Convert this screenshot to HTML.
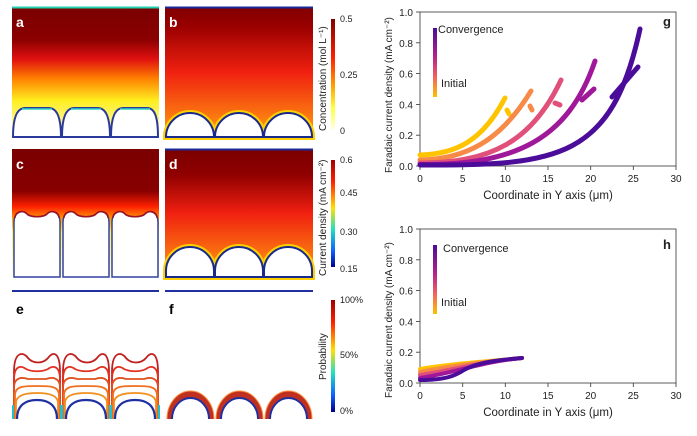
<!DOCTYPE html>
<html><head><meta charset="utf-8"><style>
body{margin:0;background:#fff}
svg text{font-family:"Liberation Sans",sans-serif}
</style></head><body>
<svg width="697" height="431" xmlns="http://www.w3.org/2000/svg">
<defs>
<linearGradient id="ga" x1="0" y1="0" x2="0" y2="1">
<stop offset="0" stop-color="#7a0000"/><stop offset="0.25" stop-color="#8a0000"/><stop offset="0.4" stop-color="#e01010"/><stop offset="0.55" stop-color="#ff8000"/><stop offset="0.72" stop-color="#ffee20"/><stop offset="1" stop-color="#fffbd0"/></linearGradient>
<linearGradient id="gb" x1="0" y1="0" x2="0" y2="1">
<stop offset="0" stop-color="#800000"/><stop offset="0.15" stop-color="#9a0000"/><stop offset="0.5" stop-color="#f02010"/><stop offset="1" stop-color="#ffa010"/></linearGradient>
<linearGradient id="gc" x1="0" y1="0" x2="0" y2="1">
<stop offset="0" stop-color="#7a0000"/><stop offset="0.33" stop-color="#880000"/><stop offset="0.45" stop-color="#ff2000"/><stop offset="0.55" stop-color="#ffa000"/><stop offset="0.65" stop-color="#fff060"/><stop offset="1" stop-color="#fffde0"/></linearGradient>
<linearGradient id="gd" x1="0" y1="0" x2="0" y2="1">
<stop offset="0" stop-color="#7a0000"/><stop offset="0.2" stop-color="#900000"/><stop offset="0.5" stop-color="#f02010"/><stop offset="1" stop-color="#ffa010"/></linearGradient>
<linearGradient id="cb1" x1="0" y1="0" x2="0" y2="1"><stop offset="0" stop-color="#800000"/><stop offset="0.35" stop-color="#ff2000"/><stop offset="0.6" stop-color="#ffa000"/><stop offset="0.8" stop-color="#ffff40"/><stop offset="1" stop-color="#ffffe8"/></linearGradient>
<linearGradient id="cb2" x1="0" y1="0" x2="0" y2="1"><stop offset="0" stop-color="#a00000"/><stop offset="0.2" stop-color="#ff2000"/><stop offset="0.45" stop-color="#ffe000"/><stop offset="0.65" stop-color="#20e0c0"/><stop offset="0.85" stop-color="#1060ff"/><stop offset="1" stop-color="#00008a"/></linearGradient>
<linearGradient id="leg" x1="0" y1="0" x2="0" y2="1"><stop offset="0" stop-color="#4b0c9a"/><stop offset="0.4" stop-color="#b0208a"/><stop offset="0.7" stop-color="#f06060"/><stop offset="1" stop-color="#ffc000"/></linearGradient>
</defs>
<!-- panel a -->
<rect x="12" y="7" width="147" height="130" fill="url(#ga)"/>
<line x1="12" y1="7.5" x2="159" y2="7.5" stroke="#20d0b0" stroke-width="2"/>
<g fill="#fff" stroke="#2a3a9a" stroke-width="2">
<path d="M13,137 C13,115 18,108 25,108 L49,108 C56,108 61,115 61,137Z"/>
<path d="M62,137 C62,115 67,108 74,108 L98,108 C105,108 110,115 110,137Z"/>
<path d="M111,137 C111,115 116,108 123,108 L147,108 C154,108 158,115 158,137Z"/>
</g>
<g fill="none" stroke="#30d0c0" stroke-width="1.5"><path d="M22,109 L52,109"/><path d="M71,109 L101,109"/><path d="M120,109 L150,109"/></g>
<text x="16" y="27" fill="#fff" font-size="14" font-weight="bold">a</text>
<!-- panel b -->
<rect x="165" y="7" width="148" height="130" fill="url(#gb)"/>
<line x1="165" y1="7.5" x2="313" y2="7.5" stroke="#1a2a9a" stroke-width="2"/>
<g fill="#fff" stroke="#ffd000" stroke-width="6"><path d="M166,137 A24,24 0 0 1 214,137Z"/><path d="M215,137 A24,24 0 0 1 263,137Z"/><path d="M264,137 A24,24 0 0 1 312,137Z"/></g>
<g fill="#fff" stroke="#1a2a8a" stroke-width="2"><path d="M166,137 A24,24 0 0 1 214,137Z"/><path d="M215,137 A24,24 0 0 1 263,137Z"/><path d="M264,137 A24,24 0 0 1 312,137Z"/></g>
<text x="169" y="27" fill="#fff" font-size="14" font-weight="bold">b</text>
<!-- panel c -->
<rect x="12" y="149" width="147" height="128" fill="url(#gc)"/>
<g fill="#fff" stroke="#3040a0" stroke-width="1.5">
<path d="M14,277 L14,222 C14,212 22,210 26,213 C30,218 44,218 48,213 C52,210 60,212 60,222 L60,277Z"/>
<path d="M63,277 L63,222 C63,212 71,210 75,213 C79,218 93,218 97,213 C101,210 109,212 109,222 L109,277Z"/>
<path d="M112,277 L112,222 C112,212 120,210 124,213 C128,218 142,218 146,213 C150,210 158,212 158,222 L158,277Z"/>
</g>
<g fill="none" stroke="#a01020" stroke-width="1.5"><path d="M15,218 C15,212 22,210 26,213 C30,218 44,218 48,213 C52,210 59,212 59,218"/><path d="M64,218 C64,212 71,210 75,213 C79,218 93,218 97,213 C101,210 108,212 108,218"/><path d="M113,218 C113,212 120,210 124,213 C128,218 142,218 146,213 C150,210 157,212 157,218"/></g>
<text x="16" y="169" fill="#fff" font-size="14" font-weight="bold">c</text>
<!-- panel d -->
<rect x="165" y="149" width="148" height="128" fill="url(#gd)"/>
<line x1="165" y1="149.5" x2="313" y2="149.5" stroke="#1a2a9a" stroke-width="2"/>
<g fill="#fff" stroke="#ffd000" stroke-width="6"><path d="M166,277 L166,271 A24,24 0 0 1 214,271 L214,277Z"/><path d="M215,277 L215,271 A24,24 0 0 1 263,271 L263,277Z"/><path d="M264,277 L264,271 A24,24 0 0 1 312,271 L312,277Z"/></g>
<g fill="#fff" stroke="#1a2a8a" stroke-width="2"><path d="M166,277 L166,271 A24,24 0 0 1 214,271 L214,277Z"/><path d="M215,277 L215,271 A24,24 0 0 1 263,271 L263,277Z"/><path d="M264,277 L264,271 A24,24 0 0 1 312,271 L312,277Z"/></g>
<text x="169" y="169" fill="#fff" font-size="14" font-weight="bold">d</text>
<!-- panel e -->
<line x1="12" y1="291" x2="159" y2="291" stroke="#2030a0" stroke-width="2"/>
<text x="16" y="314" fill="#000" font-size="14" font-weight="bold">e</text>
<g fill="none" stroke-width="1.8">
<g id="ecell">
<path d="M14,419 L14,372 C14,350 24,352 28,358 C33,364 43,364 48,358 C52,352 60,350 60,372 L60,419" stroke="#c02020"/>
<path d="M14,419 L14,380 C14,364 22,366 26,369 C32,372 42,372 48,369 C52,366 60,364 60,380 L60,419" stroke="#e03020"/>
<path d="M14,419 L14,388 C14,377 22,377 28,379 L46,379 C52,377 60,377 60,388 L60,419" stroke="#e05020"/>
<path d="M15,419 L15,395 C15,386 24,386 37,386 C50,386 59,386 59,395 L59,419" stroke="#f07020"/>
<path d="M16,419 L16,403 C16,395 26,393 37,393 C48,393 58,395 58,403 L58,419" stroke="#f09020"/>
<path d="M17,419 C17,404 27,400 37,400 C47,400 57,404 57,419" stroke="#2030a0" stroke-width="2.2"/>
<path d="M13,419 L13,405 M61,419 L61,405" stroke="#20c0d0" stroke-width="2"/>
</g>
<use href="#ecell" x="49"/><use href="#ecell" x="98"/>
</g>
<!-- panel f -->
<line x1="165" y1="291" x2="313" y2="291" stroke="#2030a0" stroke-width="2"/>
<text x="169" y="314" fill="#000" font-size="14" font-weight="bold">f</text>
<g id="fcell">
<path d="M167,419 A23.5,28 0 0 1 214,419Z" fill="#c03020"/>
<path d="M172,419 A18.5,21 0 0 1 209,419Z" fill="#fff"/>
<path d="M172,419 A18.5,21 0 0 1 209,419" fill="none" stroke="#2030a0" stroke-width="2"/>
<path d="M167,419 A23.5,28 0 0 1 214,419" fill="none" stroke="#ff9040" stroke-width="1"/>
</g>
<use href="#fcell" x="49"/><use href="#fcell" x="98"/>
<!-- colorbars -->
<rect x="331" y="19" width="4" height="111" fill="url(#cb1)"/>
<rect x="331" y="160" width="4" height="107" fill="url(#cb2)"/>
<rect x="331" y="300" width="4" height="112" fill="url(#cb2)"/>
<g font-size="9" fill="#222">
<text x="340" y="22">0.5</text><text x="340" y="78">0.25</text><text x="340" y="134">0</text>
<text x="340" y="163">0.6</text><text x="340" y="196">0.45</text><text x="340" y="235">0.30</text><text x="340" y="272">0.15</text>
<text x="340" y="303">100%</text><text x="340" y="358">50%</text><text x="340" y="414">0%</text>
</g>
<g font-size="10" fill="#222">
<text transform="translate(326,131) rotate(-90)">Concentration (mol L⁻¹)</text>
<text transform="translate(326,276) rotate(-90)">Current density (mA cm⁻²)</text>
<text transform="translate(326,380) rotate(-90)">Probability</text>
</g>
<!-- plot g -->
<g font-size="10" fill="#222">
<rect x="420" y="12" width="256" height="154" fill="none" stroke="#333" stroke-width="0.8"/>
<g stroke="#333" stroke-width="0.8">
<line x1="420" y1="166" x2="420" y2="170"/><line x1="462.7" y1="166" x2="462.7" y2="170"/><line x1="505.3" y1="166" x2="505.3" y2="170"/><line x1="548" y1="166" x2="548" y2="170"/><line x1="590.7" y1="166" x2="590.7" y2="170"/><line x1="633.3" y1="166" x2="633.3" y2="170"/><line x1="676" y1="166" x2="676" y2="170"/>
<line x1="416" y1="12" x2="420" y2="12"/><line x1="416" y1="42.8" x2="420" y2="42.8"/><line x1="416" y1="73.6" x2="420" y2="73.6"/><line x1="416" y1="104.4" x2="420" y2="104.4"/><line x1="416" y1="135.2" x2="420" y2="135.2"/><line x1="416" y1="166" x2="420" y2="166"/>
</g>
<text x="420" y="182" text-anchor="middle">0</text><text x="462.7" y="182" text-anchor="middle">5</text><text x="505.3" y="182" text-anchor="middle">10</text><text x="548" y="182" text-anchor="middle">15</text><text x="590.7" y="182" text-anchor="middle">20</text><text x="633.3" y="182" text-anchor="middle">25</text><text x="676" y="182" text-anchor="middle">30</text>
<text x="413" y="16" text-anchor="end">1.0</text><text x="413" y="46.8" text-anchor="end">0.8</text><text x="413" y="77.6" text-anchor="end">0.6</text><text x="413" y="108.4" text-anchor="end">0.4</text><text x="413" y="139.2" text-anchor="end">0.2</text><text x="413" y="170" text-anchor="end">0.0</text>
<text x="548" y="199" text-anchor="middle" font-size="11.5">Coordinate in Y axis (μm)</text>
<text transform="translate(392,173) rotate(-90)" font-size="10">Faradaic current density (mA cm⁻²)</text>
<text x="663" y="26" font-size="13" font-weight="bold">g</text>
<rect x="433" y="28" width="4" height="69" fill="url(#leg)"/>
<text x="438" y="33" font-size="11">Convergence</text><text x="441" y="87" font-size="11">Initial</text>
</g>
<g fill="none" stroke-width="5" stroke-linecap="round">
<path d="M420,155 C455,154 482,142 505,98" stroke="#ffc400"/><path d="M507,110 L509,114" stroke="#ffc400"/>
<path d="M420,160 C465,159 500,142 531,91" stroke="#f88a48"/><path d="M530,106 L532,110" stroke="#f88a48"/>
<path d="M420,163 C490,163 532,142 561,80" stroke="#e0507a"/><path d="M555,103 L560,105" stroke="#e0507a"/>
<path d="M420,164.5 C515,165 568,140 595,61" stroke="#a0189a"/><path d="M582,100 L594,89" stroke="#a0189a"/>
<path d="M420,165 C560,166 612,158 640,29" stroke="#4b0c9a"/><path d="M612,97 L638,67" stroke="#4b0c9a"/>
</g>
<!-- plot h -->
<g font-size="10" fill="#222">
<rect x="420" y="229" width="256" height="154" fill="none" stroke="#333" stroke-width="0.8"/>
<g stroke="#333" stroke-width="0.8">
<line x1="420" y1="383" x2="420" y2="387"/><line x1="462.7" y1="383" x2="462.7" y2="387"/><line x1="505.3" y1="383" x2="505.3" y2="387"/><line x1="548" y1="383" x2="548" y2="387"/><line x1="590.7" y1="383" x2="590.7" y2="387"/><line x1="633.3" y1="383" x2="633.3" y2="387"/><line x1="676" y1="383" x2="676" y2="387"/>
<line x1="416" y1="229" x2="420" y2="229"/><line x1="416" y1="259.8" x2="420" y2="259.8"/><line x1="416" y1="290.6" x2="420" y2="290.6"/><line x1="416" y1="321.4" x2="420" y2="321.4"/><line x1="416" y1="352.2" x2="420" y2="352.2"/><line x1="416" y1="383" x2="420" y2="383"/>
</g>
<text x="420" y="399" text-anchor="middle">0</text><text x="462.7" y="399" text-anchor="middle">5</text><text x="505.3" y="399" text-anchor="middle">10</text><text x="548" y="399" text-anchor="middle">15</text><text x="590.7" y="399" text-anchor="middle">20</text><text x="633.3" y="399" text-anchor="middle">25</text><text x="676" y="399" text-anchor="middle">30</text>
<text x="413" y="233" text-anchor="end">1.0</text><text x="413" y="263.8" text-anchor="end">0.8</text><text x="413" y="294.6" text-anchor="end">0.6</text><text x="413" y="325.4" text-anchor="end">0.4</text><text x="413" y="356.2" text-anchor="end">0.2</text><text x="413" y="387" text-anchor="end">0.0</text>
<text x="548" y="416" text-anchor="middle" font-size="11.5">Coordinate in Y axis (μm)</text>
<text transform="translate(392,398) rotate(-90)" font-size="10">Faradaic current density (mA cm⁻²)</text>
<text x="663" y="249" font-size="13" font-weight="bold">h</text>
<rect x="433" y="245" width="4" height="69" fill="url(#leg)"/>
<text x="443" y="252" font-size="11">Convergence</text><text x="441" y="306" font-size="11">Initial</text>
</g>
<g fill="none" stroke-width="4" stroke-linecap="round">
<path d="M420,369 C450,364 480,362 522,358" stroke="#ffc400"/>
<path d="M420,372 C450,366 480,362 522,358" stroke="#f88a48"/>
<path d="M420,375 C452,370 480,362 522,358" stroke="#e0507a"/>
<path d="M420,378 C455,373 480,362 522,358" stroke="#a0189a"/>
<path d="M420,380 C445,380 455,376 464,370 C478,362 500,360 522,358" stroke="#4b0c9a"/>
</g>
</svg>
</body></html>
